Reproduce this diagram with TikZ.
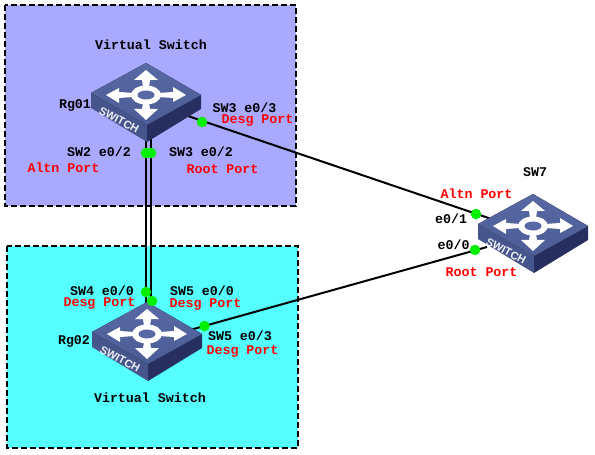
\documentclass[tikz,border=0pt]{standalone}
\usepackage{fontspec}
\setmonofont{Liberation Mono}
\setsansfont{Liberation Sans}
\definecolor{boxblue}{HTML}{A9A9FF}
\definecolor{boxcyan}{HTML}{55FFFF}
\definecolor{swtop}{HTML}{5868A4}
\definecolor{swtopb}{HTML}{4C5C96}
\definecolor{swleft}{HTML}{46558C}
\definecolor{swright}{HTML}{262F60}
\definecolor{dotgreen}{HTML}{00F000}
\pgfdeclarelayer{zones}
\pgfdeclarelayer{links}
\pgfsetlayers{zones,links,main}
\tikzset{
  x=1bp,y=-1bp,
  zone/.style={draw=black,line width=2bp,dash pattern=on 6bp off 3bp},
  lbl/.style={font=\ttfamily\bfseries\fontsize{13.33bp}{14bp}\selectfont,text=black,inner sep=0pt},
  redlbl/.style={lbl,text=red},
  link/.style={draw=black,line width=2bp},
  portdot/.style={circle,fill=dotgreen,inner sep=0pt,minimum size=10.5bp},
  pics/switchicon/.style={code={
    \fill[swleft] (-55,-2) -- (1,30) -- (1,47) -- (-55,13) -- cycle;
    \fill[swright] (1,30) -- (55,0) -- (55,14) -- (1,47) -- cycle;
    \fill[top color=swtop,bottom color=swtopb] (-55,-2) -- (0,-32) -- (55,0) -- (1,30) -- cycle;
    \fill[white]
      (0,-25) -- (12,-15) -- (4,-15) -- (3,-8) -- (-3,-8) -- (-4,-15) -- (-12,-15) -- cycle
      (0,25) -- (12,14) -- (4,14) -- (3,8) -- (-3,8) -- (-4,14) -- (-12,14) -- cycle
      (-40,0) -- (-27,-7) -- (-27,-3) -- (-12,-2) -- (-12,2) -- (-27,3) -- (-27,8) -- cycle
      (40,0) -- (27,-8) -- (27,-3) -- (12,-2) -- (12,2) -- (27,3) -- (27,7) -- cycle;
    \fill[white] (0,0) ellipse [x radius=15,y radius=9.5];
    \fill[swtop] (0,0) ellipse [x radius=8.5,y radius=4.5];
    \node[font=\sffamily\bfseries\fontsize{11bp}{12bp}\selectfont,text=white!90!swtop,rotate=-28,inner sep=0pt] (-label) at (-27,25) {SWITCH};
  }}
}
\begin{document}
\begin{tikzpicture}
\useasboundingbox (0,0) rectangle (595,455);
\begin{pgfonlayer}{zones}
\fill[white] (0,0) rectangle (595,455);
\draw[zone,fill=boxblue] (5,5) rectangle (296,206);
\draw[zone,fill=boxcyan] (7,246) rectangle (298,448);
\end{pgfonlayer}

% switches
\pic (rgone) at (146,95) {switchicon};
\pic (rgtwo) at (147,334) {switchicon};
\pic (swseven) at (533,226) {switchicon};

% link end points under the switches
\coordinate (rgoneA) at (146,125);
\coordinate (rgoneB) at (151,125);
\coordinate (rgoneC) at (185,115);
\coordinate (rgtwoA) at (146,305);
\coordinate (rgtwoB) at (151,305);
\coordinate (rgtwoC) at (190,330);
\coordinate (sevenA) at (490,218.5);
\coordinate (sevenB) at (487,247);

% links
\begin{pgfonlayer}{links}
\path[link] (rgoneA) -- (rgtwoA);
\path[link] (rgoneB) -- (rgtwoB);
\path[link] (rgoneC) -- (sevenA);
\path[link] (rgtwoC) -- (sevenB);
\end{pgfonlayer}

% port dots
\node[portdot] (p1) at (146,153) {};
\node[portdot] (p2) at (151,153) {};
\node[portdot] (p3) at (202,122) {};
\node[portdot] (p4) at (146,292) {};
\node[portdot] (p5) at (152,301) {};
\node[portdot] (p6) at (204.5,326) {};
\node[portdot] (p7) at (476,214) {};
\node[portdot] (p8) at (475,250) {};

% labels
\node[lbl] (t1) at (151,45) {Virtual Switch};
\node[lbl] (t2) at (75,105) {Rg01};
\node[lbl] (t3) at (244.5,108) {SW3 e0/3};
\node[redlbl] (t4) at (257.5,120) {Desg Port};
\node[lbl] (t5) at (99,152) {SW2 e0/2};
\node[redlbl] (t6) at (63.5,168) {Altn Port};
\node[lbl] (t7) at (201,152) {SW3 e0/2};
\node[redlbl] (t8) at (222.5,169) {Root Port};
\node[lbl] (t9) at (102,291) {SW4 e0/0};
\node[redlbl] (t10) at (99.5,303) {Desg Port};
\node[lbl] (t11) at (202,291) {SW5 e0/0};
\node[redlbl] (t12) at (205.5,304) {Desg Port};
\node[lbl] (t13) at (74,341) {Rg02};
\node[lbl] (t14) at (240,336) {SW5 e0/3};
\node[redlbl] (t15) at (242.5,351) {Desg Port};
\node[lbl] (t16) at (150,398) {Virtual Switch};
\node[lbl] (t17) at (535,172) {SW7};
\node[redlbl] (t18) at (476.5,194) {Altn Port};
\node[lbl] (t19) at (451,219) {e0/1};
\node[lbl] (t20) at (453.5,245) {e0/0};
\node[redlbl] (t21) at (481.5,272) {Root Port};
\end{tikzpicture}
\end{document}
